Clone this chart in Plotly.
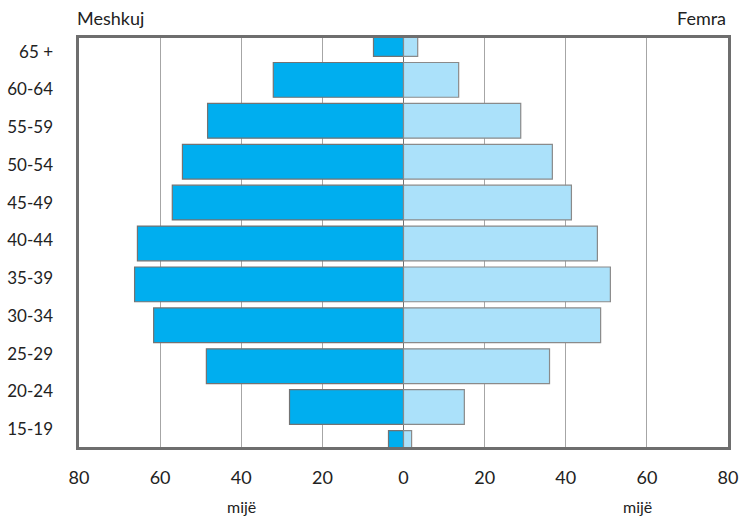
import plotly.graph_objects as go

age_groups = ["65 +", "60-64", "55-59", "50-54", "45-49", "40-44",
              "35-39", "30-34", "25-29", "20-24", "15-19"]
male = [7.4, 32.1, 48.3, 54.5, 57.0, 65.6, 66.3, 61.6, 48.6, 28.1, 3.7]
female = [3.5, 13.6, 28.9, 36.7, 41.4, 47.8, 51.0, 48.6, 36.0, 15.0, 2.0]
x_ticks = [-80, -60, -40, -20, 0, 20, 40, 60, 80]
x_ticktext = [str(abs(v)) for v in x_ticks]

FONT = "Lato, 'Noto Sans', sans-serif"

fig = go.Figure()
fig.add_trace(go.Bar(
    y=age_groups, x=[-v for v in male], orientation="h",
    marker=dict(color="#00AEEF", line=dict(color="#737373", width=1.2)),
    width=0.85, name="Meshkuj", yaxis="y",
))
fig.add_trace(go.Bar(
    y=age_groups, x=female, orientation="h",
    marker=dict(color="#ABE1FA", line=dict(color="#8a8a8a", width=1.2)),
    width=0.85, name="Femra", yaxis="y",
))
# invisible trace to carry the label axis
fig.add_trace(go.Scatter(x=[0], y=[0], yaxis="y2", mode="markers",
                         marker=dict(opacity=0), hoverinfo="skip",
                         showlegend=False))

fig.update_layout(
    width=742, height=517,
    margin=dict(l=79, r=14, t=38, b=70, autoexpand=False),
    paper_bgcolor="white", plot_bgcolor="white",
    barmode="relative", showlegend=False,
    font=dict(family=FONT, size=17, color="#222222"),
    xaxis=dict(
        range=[-80, 80], tickvals=x_ticks, ticktext=x_ticktext,
        showgrid=True, gridcolor="#a6a6a6", gridwidth=1,
        zeroline=True, zerolinecolor="#707070", zerolinewidth=1,
        showline=True, linecolor="#6e6e6e", linewidth=2.5, mirror=True,
        ticks="", ticklabelstandoff=13, automargin=False,
        tickfont=dict(family=FONT, size=18, color="#222222"),
        fixedrange=True,
    ),
    yaxis=dict(
        type="category", categoryorder="array", categoryarray=age_groups,
        range=[9.976, -0.024], showticklabels=False, showgrid=False,
        showline=True, linecolor="#6e6e6e", linewidth=2.5, mirror=True,
        ticks="", automargin=False,
    ),
    yaxis2=dict(
        overlaying="y", side="left", range=[10.47, -0.36],
        tickvals=list(range(len(age_groups))), ticktext=age_groups,
        showgrid=False, zeroline=False, showline=False, ticks="",
        ticklabelstandoff=25, automargin=False,
        tickfont=dict(family=FONT, size=17, color="#222222"),
    ),
    annotations=[
        dict(text="Meshkuj", xref="paper", yref="paper", x=-0.006, y=1.0,
             xanchor="left", yanchor="bottom", yshift=7, showarrow=False,
             font=dict(family=FONT, size=18, color="#222222")),
        dict(text="Femra", xref="paper", yref="paper", x=1.0, y=1.0,
             xanchor="right", yanchor="bottom", yshift=7, showarrow=False,
             font=dict(family=FONT, size=18, color="#222222")),
        dict(text="mijë", xref="x", yref="paper", x=-40, y=0,
             xanchor="center", yanchor="middle", yshift=-59, showarrow=False,
             font=dict(family=FONT, size=16, color="#222222")),
        dict(text="mijë", xref="x", yref="paper", x=57.8, y=0,
             xanchor="center", yanchor="middle", yshift=-59, showarrow=False,
             font=dict(family=FONT, size=16, color="#222222")),
    ],
)

fig.write_html(
    "out.html",
    config={"displayModeBar": False},
    post_script="document.body.style.margin='0px';"
                "document.body.style.overflow='hidden';",
)
